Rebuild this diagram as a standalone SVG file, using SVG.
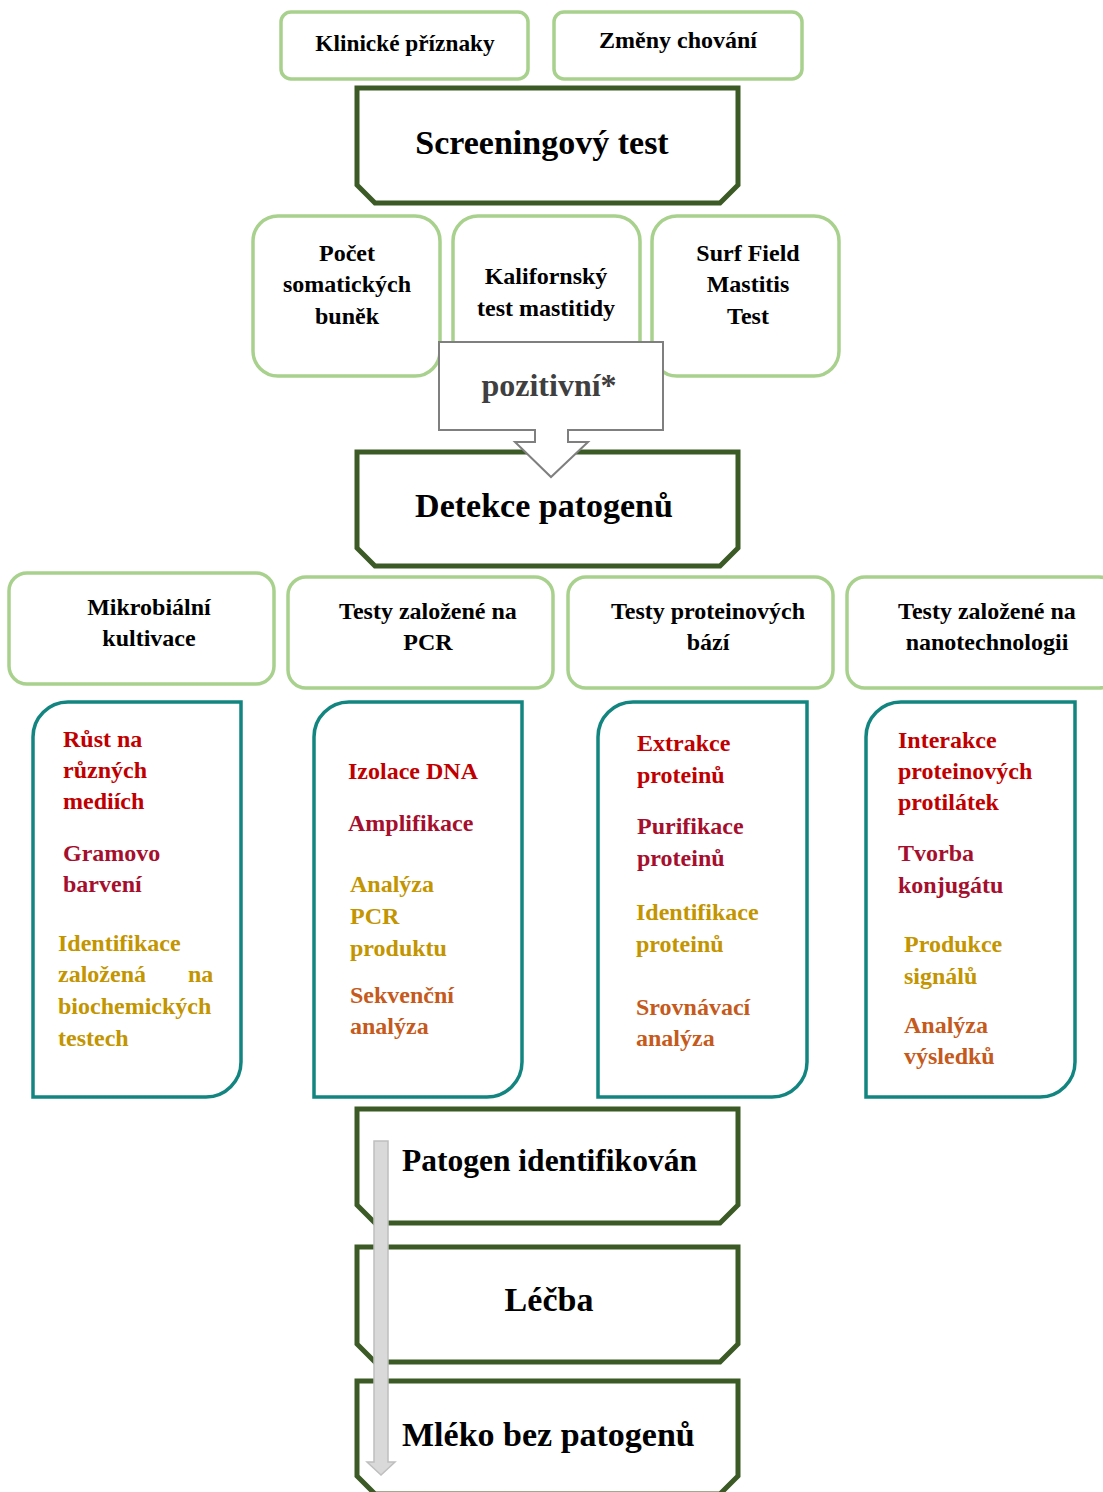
<svg xmlns="http://www.w3.org/2000/svg" width="1103" height="1492" viewBox="0 0 1103 1492">
<defs>
<style>
text{font-family:"Liberation Serif","Times New Roman",serif;font-weight:bold;}
.lg{fill:#fff;stroke:#a9d18e;stroke-width:3.5;}
.dg{fill:#fff;stroke:#3b5a25;stroke-width:5;}
.tl{fill:#fff;stroke:#138580;stroke-width:3.5;}
.t22c{font-size:24px;fill:#000;text-anchor:middle;}
.big{font-size:34px;fill:#000;text-anchor:middle;}
.mid{font-size:31.5px;fill:#000;}
.s{font-size:24px;}
.red{fill:#c00000;}
.crm{fill:#a50f2d;}
.gld{fill:#c39500;}
.org{fill:#c55a1c;}
</style>
</defs>
<rect width="1103" height="1492" fill="#fff"/>

<g id="klinicke">
<rect class="lg" x="281" y="12" width="247" height="67" rx="10"/>
<text class="t22c" x="405" y="51" style="font-size:23.3px">Klinické příznaky</text>
</g>
<g id="zmeny">
<rect class="lg" x="554" y="12" width="248" height="67" rx="10"/>
<text class="t22c" x="678" y="48">Změny chování</text>
</g>
<g id="screening">
<path class="dg" d="M357,88 H738 V185 L720,203 H375 L357,185 Z"/>
<text class="big" x="542" y="154">Screeningový test</text>
</g>

<g id="pocet">
<rect class="lg" x="253" y="216" width="187" height="160" rx="25"/>
<text class="t22c" x="347" y="261">Počet</text>
<text class="t22c" x="347" y="292">somatických</text>
<text class="t22c" x="347" y="324">buněk</text>
</g>
<g id="kalifornsky">
<rect class="lg" x="453" y="216" width="187" height="160" rx="25"/>
<text class="t22c" x="546" y="284">Kalifornský</text>
<text class="t22c" x="546" y="316">test mastitidy</text>
</g>
<g id="surf">
<rect class="lg" x="652" y="216" width="187" height="160" rx="25"/>
<text class="t22c" x="748" y="261">Surf Field</text>
<text class="t22c" x="748" y="292">Mastitis</text>
<text class="t22c" x="748" y="324">Test</text>
</g>

<g id="detekce">
<path class="dg" d="M357,452 H738 V548 L720,566 H375 L357,548 Z"/>
<text class="big" x="544" y="517">Detekce patogenů</text>
</g>

<g id="pozitivni">
<path d="M439,342 H663 V430 H568 V442 H588 L551,477 L515,442 H535 V430 H439 Z" fill="#fff" stroke="#7f7f7f" stroke-width="2"/>
<text x="549" y="396" font-size="32" fill="#3f3f3f" text-anchor="middle">pozitivní*</text>
</g>

<g id="mikrobialni">
<rect class="lg" x="9" y="573" width="265" height="111" rx="18"/>
<text class="t22c" x="149" y="615">Mikrobiální</text>
<text class="t22c" x="149" y="646">kultivace</text>
</g>
<g id="pcr">
<rect class="lg" x="288" y="577" width="265" height="111" rx="18"/>
<text class="t22c" x="428" y="619">Testy založené na</text>
<text class="t22c" x="428" y="650">PCR</text>
</g>
<g id="protein">
<rect class="lg" x="568" y="577" width="265" height="111" rx="18"/>
<text class="t22c" x="708" y="619">Testy proteinových</text>
<text class="t22c" x="708" y="650">bází</text>
</g>
<g id="nano">
<rect class="lg" x="847" y="577" width="270" height="111" rx="18"/>
<text class="t22c" x="987" y="619">Testy založené na</text>
<text class="t22c" x="987" y="650">nanotechnologii</text>
</g>

<g id="box-mikro">
<path class="tl" d="M33,1097 V737 A35,35 0 0 1 68,702 H241 V1062 A35,35 0 0 1 206,1097 Z"/>
<text class="s red" x="63" y="747">Růst na</text>
<text class="s red" x="63" y="778">různých</text>
<text class="s red" x="63" y="809">mediích</text>
<text class="s crm" x="63" y="861">Gramovo</text>
<text class="s crm" x="63" y="892">barvení</text>
<text class="s gld" x="58" y="951">Identifikace</text>
<text class="s gld" y="982"><tspan x="58">založená</tspan><tspan x="188">na</tspan></text>
<text class="s gld" x="58" y="1014">biochemických</text>
<text class="s gld" x="58" y="1046">testech</text>
</g>
<g id="box-pcr">
<path class="tl" d="M314,1097 V737 A35,35 0 0 1 349,702 H522 V1062 A35,35 0 0 1 487,1097 Z"/>
<text class="s red" x="348" y="779">Izolace DNA</text>
<text class="s crm" x="348" y="831">Amplifikace</text>
<text class="s gld" x="350" y="892">Analýza</text>
<text class="s gld" x="350" y="924">PCR</text>
<text class="s gld" x="350" y="956">produktu</text>
<text class="s org" x="350" y="1003">Sekvenční</text>
<text class="s org" x="350" y="1034">analýza</text>
</g>
<g id="box-protein">
<path class="tl" d="M598,1097 V737 A35,35 0 0 1 633,702 H807 V1062 A35,35 0 0 1 772,1097 Z"/>
<text class="s red" x="637" y="751">Extrakce</text>
<text class="s red" x="637" y="783">proteinů</text>
<text class="s crm" x="637" y="834">Purifikace</text>
<text class="s crm" x="637" y="866">proteinů</text>
<text class="s gld" x="636" y="920">Identifikace</text>
<text class="s gld" x="636" y="952">proteinů</text>
<text class="s org" x="636" y="1015">Srovnávací</text>
<text class="s org" x="636" y="1046">analýza</text>
</g>
<g id="box-nano">
<path class="tl" d="M866,1097 V737 A35,35 0 0 1 901,702 H1075 V1062 A35,35 0 0 1 1040,1097 Z"/>
<text class="s red" x="898" y="748">Interakce</text>
<text class="s red" x="898" y="779">proteinových</text>
<text class="s red" x="898" y="810">protilátek</text>
<text class="s crm" x="898" y="861">Tvorba</text>
<text class="s crm" x="898" y="893">konjugátu</text>
<text class="s gld" x="904" y="952">Produkce</text>
<text class="s gld" x="904" y="984">signálů</text>
<text class="s org" x="904" y="1033">Analýza</text>
<text class="s org" x="904" y="1064">výsledků</text>
</g>

<g id="patogen-identifikovan">
<path class="dg" d="M357,1109 H738 V1205 L720,1223 H375 L357,1205 Z"/>
<text class="mid" x="402" y="1171">Patogen identifikován</text>
</g>
<g id="lecba">
<path class="dg" d="M357,1247 H738 V1344 L720,1362 H375 L357,1344 Z"/>
<text class="mid" x="549" y="1311" text-anchor="middle" style="font-size:34px">Léčba</text>
</g>
<g id="mleko">
<path class="dg" d="M357,1381 H738 V1476 L720,1494 H375 L357,1476 Z"/>
<text class="mid" x="402" y="1446" style="font-size:34px">Mléko bez patogenů</text>
</g>

<g id="connectors">
<path d="M374,1141 H388 V1462 H395 L381,1475 L367,1462 H374 Z" fill="#d9d9d9" stroke="#bfbfbf" stroke-width="1.5"/>
</g>
</svg>
